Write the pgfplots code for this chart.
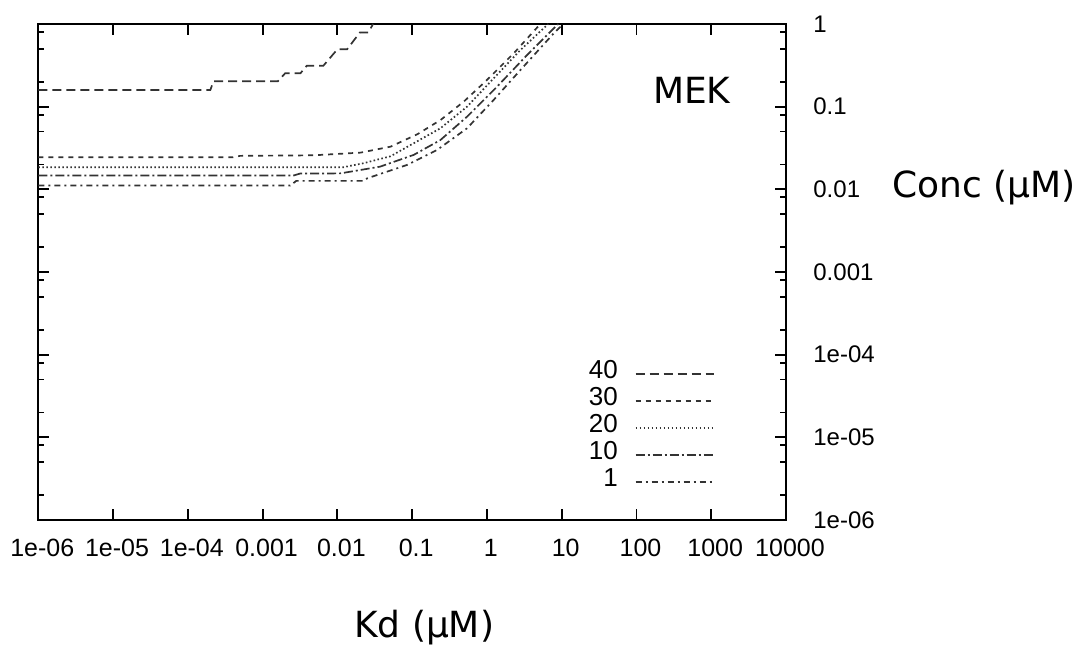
\documentclass[border=0pt]{standalone}
\usepackage{fontspec}
\setmainfont{Liberation Sans}
\newfontfamily\lib{Liberation Sans}
\newfontfamily\dejavu{DejaVu Sans}
\newcommand\tx{\lib\fontsize{12.5}{12.5}\selectfont}
\newcommand\ty{\lib\fontsize{12}{12}\selectfont}
\newcommand\tl{\lib\fontsize{13}{13}\selectfont}
\usepackage{pgfplots}
\pgfplotsset{compat=1.18}
\begin{document}
\begin{tikzpicture}
\useasboundingbox (-19.15pt,-63pt) rectangle (519.35pt,260pt);
\begin{axis}[
  at={(0pt,0pt)}, anchor=south west,
  scale only axis, width=373.85pt, height=248pt,
  xmode=log, ymode=log,
  xmin=1e-6, xmax=1e4, ymin=1e-6, ymax=1,
  xtick={1e-6,1e-5,1e-4,1e-3,1e-2,1e-1,1,10,100,1000,10000},
  xticklabels={{\tx 1e-06},{\tx 1e-05},{\tx 1e-04},{\tx 0.001},{\tx 0.01},{\tx 0.1},{\tx 1},{\tx 10},{\tx 100},{\tx 1000},{\tx 10000}},
  ytick={1e-6,1e-5,1e-4,1e-3,1e-2,1e-1,1},
  yticklabels={{\ty 1e-06},{\ty 1e-05},{\ty 1e-04},{\ty 0.001},{\ty 0.01},{\ty 0.1},{\ty 1}},
  xminorticks=false, yminorticks=false,
  extra y ticks={2e-6,5e-6,8e-6,2e-5,5e-5,8e-5,2e-4,5e-4,8e-4,2e-3,5e-3,8e-3,2e-2,5e-2,8e-2,0.2,0.5,0.8},
  extra y tick labels={},
  extra y tick style={major tick length=3pt},
  yticklabel pos=right,
  tick align=inside,
  major tick length=5.5pt,
  axis line style={line width=1pt},
  every tick/.style={black, line width=0.9pt},
  xticklabel style={anchor=base, inner sep=0pt, yshift=-18.5pt, xshift=2pt},
  yticklabel style={anchor=west, inner sep=0pt, xshift=13.5pt},
  xlabel={\dejavu\fontsize{18}{18}\selectfont Kd (µM)},
  ylabel={\dejavu\fontsize{18}{18}\selectfont Conc (µM)},
  every axis x label/.style={at={(axis description cs:0.516,0)}, anchor=center, yshift=-54pt, inner sep=0pt},
  every axis y label/.style={at={(axis description cs:1,0.671)}, anchor=west, xshift=53pt, inner sep=0pt},
  legend style={draw=none, fill=none, at={(0.905,0.3226)}, anchor=north east,
    row sep=0pt, column sep=8.5pt,
    inner sep=0pt, nodes={inner sep=0pt, text height=9pt, text depth=4.5pt}},
  legend cell align=right,
  legend plot pos=right,
  legend image code/.code={\draw[#1] (0pt,0pt) -- (39pt,0pt);},
]
\addplot[line width=0.85pt, black!80, dash pattern=on 4.5pt off 2.5pt] table {
1e-6 0.159
2.0e-4 0.159
2.2e-4 0.203
1.6e-3 0.203
2.0e-3 0.253
3.2e-3 0.253
3.9e-3 0.313
6.5e-3 0.313
1.0e-2 0.494
1.35e-2 0.494
2.0e-2 0.79
2.6e-2 0.79
3.0e-2 1.0
};
\addlegendentry{\tl 40}
\addplot[line width=0.85pt, black!80, dash pattern=on 2.5pt off 2.5pt] table {
1e-6 0.0244
3.98e-4 0.0244
5e-4 0.0254
4.8e-3 0.0258
0.0204 0.0278
0.0513 0.0328
0.117 0.0463
0.24 0.069
0.49 0.115
1.0 0.21
2.29 0.443
4.9 0.946
5.13 1.0
};
\addlegendentry{\tl 30}
\addplot[line width=0.85pt, black!80, dash pattern=on 0.8pt off 1.2pt] table {
1e-6 0.0185
0.012 0.0185
0.0224 0.0207
0.0513 0.0251
0.105 0.0361
0.239 0.0548
0.543 0.1
1.23 0.22
2.81 0.485
6.4 0.973
6.6 1.0
};
\addlegendentry{\tl 20}
\addplot[line width=0.85pt, black!80, dash pattern=on 4.5pt off 1.5pt on 1pt off 1.5pt] table {
1e-6 0.01466
2.57e-3 0.01466
3.16e-3 0.0155
0.011 0.0156
0.0372 0.0188
0.105 0.0261
0.239 0.0395
0.543 0.0757
1.37 0.175
3.45 0.422
8.71 0.973
9.0 1.0
};
\addlegendentry{\tl 10}
\addplot[line width=0.85pt, black!80, dash pattern=on 3pt off 2pt on 1pt off 2pt] table {
1e-6 0.0111
2.34e-3 0.0111
2.82e-3 0.01265
0.0224 0.01265
0.0251 0.0136
0.0851 0.0197
0.215 0.0299
0.543 0.0548
1.23 0.1205
2.81 0.278
7.83 0.771
10.5 1.0
};
\addlegendentry{\tl 1}
\node[font=\dejavu\fontsize{18}{18}\selectfont] at (rel axis cs:0.874,0.867) {MEK};
\end{axis}
\end{tikzpicture}
\end{document}
